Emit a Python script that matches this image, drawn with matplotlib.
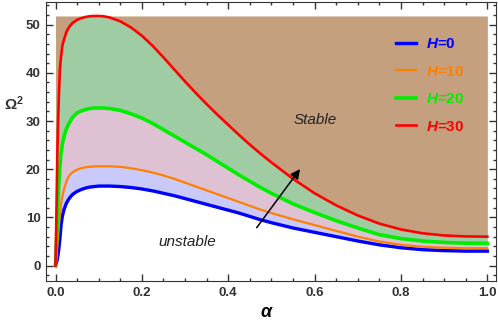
import numpy as np
import matplotlib
matplotlib.use('Agg')
import matplotlib.pyplot as plt
from matplotlib.ticker import MultipleLocator

plt.rcParams['font.family'] = ['Liberation Sans', 'DejaVu Sans']
plt.rcParams['mathtext.fontset'] = 'custom'
plt.rcParams['mathtext.it'] = 'Liberation Sans:italic:bold'
plt.rcParams['mathtext.rm'] = 'Liberation Sans:bold'

# values
alpha = [0, 0.002, 0.004, 0.006, 0.008, 0.01, 0.013, 0.016, 0.02, 0.025, 0.03, 0.035,
         0.04, 0.05, 0.06, 0.07, 0.08, 0.09, 0.1, 0.11, 0.125, 0.15, 0.175, 0.2,
         0.225, 0.25, 0.275, 0.3, 0.325, 0.35, 0.375, 0.4, 0.425, 0.45, 0.475, 0.5,
         0.55, 0.6, 0.65, 0.7, 0.75, 0.8, 0.85, 0.9, 0.95, 1.0]
h0 = [0, 0.5, 1.2, 2.3, 3.7, 5.4, 8.5, 10.3, 11.7, 12.9, 13.7, 14.3,
      14.8, 15.4, 15.8, 16.1, 16.3, 16.4, 16.5, 16.5, 16.5, 16.4, 16.2, 15.9,
      15.5, 15.0, 14.5, 13.9, 13.3, 12.7, 12.1, 11.5, 10.9, 10.2, 9.5, 8.9,
      7.8, 6.9, 6.0, 5.1, 4.3, 3.7, 3.3, 3.1, 3.0, 3.0]
h10 = [0, 1.8, 3.8, 6.0, 8.3, 10.4, 12.8, 14.4, 15.9, 17.4, 18.4, 19.0,
       19.4, 19.9, 20.2, 20.4, 20.5, 20.6, 20.6, 20.6, 20.6, 20.5, 20.2, 19.8,
       19.3, 18.7, 18.0, 17.2, 16.4, 15.6, 14.8, 14.0, 13.2, 12.4, 11.6, 10.9,
       9.6, 8.4, 7.2, 6.0, 5.0, 4.3, 3.9, 3.7, 3.6, 3.6]
h20 = [0, 4.5, 9.0, 13.5, 17.3, 20.5, 23.5, 25.3, 26.9, 28.3, 29.3, 30.1,
       30.8, 31.7, 32.1, 32.4, 32.6, 32.7, 32.7, 32.7, 32.6, 32.2, 31.5, 30.6,
       29.5, 28.2, 26.9, 25.6, 24.3, 23.0, 21.6, 20.2, 18.8, 17.5, 16.2, 15.0,
       12.8, 11.0, 9.3, 7.8, 6.4, 5.6, 5.1, 4.8, 4.65, 4.6]
h30 = [0, 10.0, 22.0, 30.0, 35.5, 40.5, 43.5, 45.7, 47.0, 48.4, 49.3, 49.9,
       50.4, 51.0, 51.35, 51.6, 51.75, 51.8, 51.8, 51.75, 51.5, 50.7, 49.4, 47.7,
       45.6, 43.2, 40.7, 38.2, 35.8, 33.5, 31.3, 29.2, 27.1, 25.1, 23.2, 21.4,
       18.0, 15.0, 12.5, 10.4, 8.7, 7.5, 6.7, 6.25, 6.05, 6.0]
top = 51.8
labels = ['$H$=0', '$H$=10', '$H$=20', '$H$=30']

fig = plt.figure(figsize=(4.98, 3.22), dpi=100)
ax = fig.add_axes([46/498, 41/322, 450/498, 279/322])

ax.fill_between(alpha, h0, h10, color='#c9c9fa', lw=0)
ax.fill_between(alpha, h10, h20, color='#dfc1d4', lw=0)
ax.fill_between(alpha, h20, h30, color='#a0cca3', lw=0)
ax.fill_between(alpha, h30, top, color='#c4a07f', lw=0)

ax.plot(alpha, h0, color='#0000ff', lw=2.4, label=labels[0])
ax.plot(alpha, h10, color='#ff8000', lw=1.6, label=labels[1])
ax.plot(alpha, h20, color='#00ee00', lw=2.6, label=labels[2])
ax.plot(alpha, h30, color='#ff0000', lw=1.9, label=labels[3])

ax.set_xlim(-0.022, 1.02)
ax.set_ylim(-3.2, 54.7)
ax.xaxis.set_major_locator(MultipleLocator(0.2))
ax.xaxis.set_minor_locator(MultipleLocator(0.05))
ax.yaxis.set_major_locator(MultipleLocator(10))
ax.yaxis.set_minor_locator(MultipleLocator(2))
ax.set_xticklabels([f'{v:.1f}' for v in ax.get_xticks()])
ax.tick_params(which='both', direction='in', top=True, right=True, width=1, color='#333333')
ax.tick_params(which='major', length=5, labelsize=9.5, pad=4)
ax.tick_params(which='minor', length=2.5)
for lab in ax.get_xticklabels() + ax.get_yticklabels():
    lab.set_fontweight('bold')
    lab.set_color('#333333')
for sp in ax.spines.values():
    sp.set_color('#333333')

ax.set_xlabel(r'$\alpha$', fontsize=13)
ax.xaxis.set_label_coords(0.491, -0.083)
ax.set_ylabel(r'$\Omega^{2}$', rotation=0, fontsize=11, color='#333333',
              ha='center', va='center')
ax.yaxis.set_label_coords(-0.072, 0.635)

ax.text(0.602, 30.2, 'Stable', style='italic', fontsize=11, ha='center', va='center', color='#222222')
ax.text(0.306, 4.9, 'unstable', style='italic', fontsize=11, ha='center', va='center', color='#222222')
ax.annotate('', xy=(0.570, 20.5), xytext=(0.462, 7.4),
            arrowprops=dict(arrowstyle='-|>', color='black', lw=1.1, mutation_scale=14))

leg = ax.legend(loc='upper left', bbox_to_anchor=(0.747, 0.923), frameon=False,
                labelcolor='linecolor', prop={'weight': 'bold', 'size': 11},
                handlelength=1.3, handletextpad=0.7, labelspacing=0.88)

fig.savefig('out.png', dpi=100)
